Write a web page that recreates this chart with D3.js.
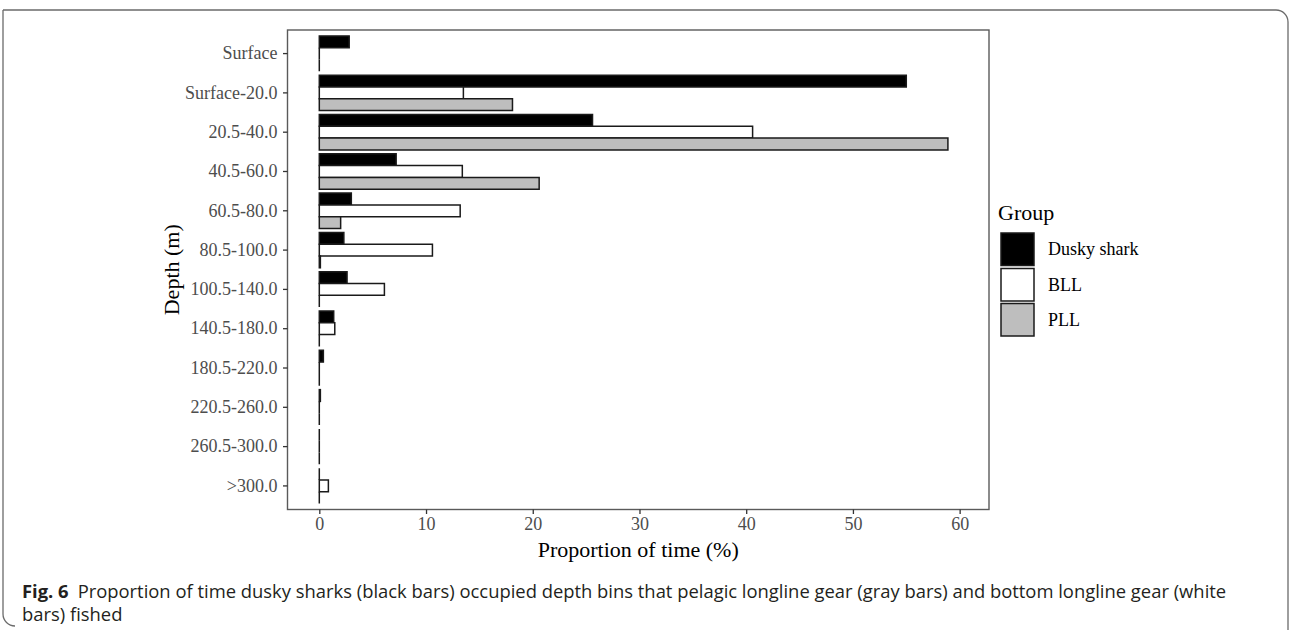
<!DOCTYPE html>
<html>
<head>
<meta charset="utf-8">
<script src="https://cdn.jsdelivr.net/npm/d3@7"></script>
<style>
  html, body { margin: 0; padding: 0; background: #fff; }
  svg { display: block; }
</style>
</head>
<body>
<svg id="chart" width="1290" height="630"></svg>
<script>
// ---- data ----
const categories = ["Surface", "Surface-20.0", "20.5-40.0", "40.5-60.0", "60.5-80.0",
  "80.5-100.0", "100.5-140.0", "140.5-180.0", "180.5-220.0", "220.5-260.0",
  "260.5-300.0", ">300.0"];
const groups = ["Dusky shark", "BLL", "PLL"];
const duskyShark = [2.8, 55.0, 25.6, 7.2, 3.0, 2.3, 2.6, 1.35, 0.38, 0.1, 0, 0];
const bll        = [0, 13.5, 40.6, 13.4, 13.2, 10.6, 6.1, 1.45, 0, 0, 0, 0.85];
const pll        = [0, 18.1, 58.9, 20.6, 2.0, 0.1, 0, 0, 0, 0, 0, 0];
const groupFills = ["#000000", "#ffffff", "#bebebe"];
const xTicks = [0, 10, 20, 30, 40, 50, 60];
const caption = {
  label: "Fig. 6",
  line1: "Proportion of time dusky sharks (black bars) occupied depth bins that pelagic longline gear (gray bars) and bottom longline gear (white",
  line2: "bars) fished"
};

const seriesValues = [duskyShark, bll, pll];
const rows = [];
categories.forEach((c, i) => groups.forEach((g, j) => rows.push({cat: c, group: g, value: seriesValues[j][i]})));

const svg = d3.select("#chart");
const panel = {left: 287.5, right: 989, top: 30, bottom: 509.5};

// outer frame
const fp = d3.path();
fp.moveTo(3, 10);
fp.lineTo(1276, 10);
fp.arcTo(1288, 10, 1288, 22, 12);
fp.lineTo(1288, 640);
svg.append("path").attr("d", fp.toString()).attr("fill", "none").attr("stroke", "#6b6b6b").attr("stroke-width", 1.3);
const fp2 = d3.path();
fp2.moveTo(3, 10);
fp2.lineTo(3, 614);
fp2.arcTo(3, 626, 15, 626, 12);
svg.append("path").attr("d", fp2.toString()).attr("fill", "none").attr("stroke", "#6b6b6b").attr("stroke-width", 1.3);

// scales
const x = d3.scaleLinear().domain([-2.98, 62.75]).range([panel.left, panel.right]);
const y = d3.scaleBand().domain(categories).range([panel.top, panel.bottom]).paddingInner(0.1).paddingOuter(0.15);
const yInner = d3.scaleBand().domain(groups).range([0, y.bandwidth()]);
const fill = d3.scaleOrdinal().domain(groups).range(groupFills);

// bars (paths so zero-width bars still draw their outline)
svg.append("g").selectAll("path").data(rows).join("path")
  .attr("d", d => {
    const p = d3.path();
    const x0 = x(0), x1 = x(d.value);
    const y0 = y(d.cat) + yInner(d.group), h = yInner.bandwidth();
    p.moveTo(x0, y0); p.lineTo(x1, y0); p.lineTo(x1, y0 + h); p.lineTo(x0, y0 + h); p.closePath();
    return p.toString();
  })
  .attr("fill", d => fill(d.group))
  .attr("stroke", "#1a1a1a")
  .attr("stroke-width", 1.5);

// panel border
svg.append("rect")
  .attr("x", panel.left).attr("y", panel.top)
  .attr("width", panel.right - panel.left).attr("height", panel.bottom - panel.top)
  .attr("fill", "none").attr("stroke", "#5a5a5a").attr("stroke-width", 1.4);

const serif = "'Liberation Serif', 'Times New Roman', serif";

// x axis
const xAxis = svg.append("g").attr("transform", `translate(0,${panel.bottom})`)
  .call(d3.axisBottom(x).tickValues(xTicks).tickSize(4.5).tickPadding(3).tickFormat(d3.format("d")));
xAxis.select(".domain").remove();
xAxis.selectAll(".tick line").attr("stroke", "#333").attr("stroke-width", 1.3);
xAxis.selectAll(".tick text").attr("font-family", serif).attr("font-size", 18).attr("fill", "#4d4d4d");

// y axis
const yAxis = svg.append("g").attr("transform", `translate(${panel.left},0)`)
  .call(d3.axisLeft(y).tickSize(4.5).tickPadding(5.5));
yAxis.select(".domain").remove();
yAxis.selectAll(".tick line").attr("stroke", "#333").attr("stroke-width", 1.3);
yAxis.selectAll(".tick text").attr("font-family", serif).attr("font-size", 18).attr("fill", "#4d4d4d");

// axis titles
svg.append("text").attr("x", (panel.left + panel.right) / 2).attr("y", 557)
  .attr("text-anchor", "middle").attr("font-family", serif).attr("font-size", 22).attr("fill", "#000")
  .text("Proportion of time (%)");
svg.append("text").attr("transform", `translate(179,${(panel.top + panel.bottom) / 2}) rotate(-90)`)
  .attr("text-anchor", "middle").attr("font-family", serif).attr("font-size", 22).attr("fill", "#000")
  .text("Depth (m)");

// legend
const lg = svg.append("g");
lg.append("text").attr("x", 998).attr("y", 220).attr("font-family", serif).attr("font-size", 22).text("Group");
const keyTop = [233, 268.5, 303.5];
groups.forEach((g, i) => {
  lg.append("rect").attr("x", 1001).attr("y", keyTop[i]).attr("width", 33).attr("height", 32.5)
    .attr("fill", fill(g)).attr("stroke", "#1a1a1a").attr("stroke-width", 1.5);
  lg.append("text").attr("x", 1048).attr("y", keyTop[i] + 22).attr("font-family", serif).attr("font-size", 18).text(g);
});

// caption
const capFont = "'Open Sans', 'Noto Sans', sans-serif";
const t1 = svg.append("text").attr("x", 22).attr("y", 598).attr("font-family", capFont).attr("font-size", 18.4).attr("fill", "#231f20");
t1.append("tspan").attr("font-weight", "bold").text(caption.label);
t1.append("tspan").attr("dx", 9).text(caption.line1);
svg.append("text").attr("x", 22).attr("y", 621).attr("font-family", capFont).attr("font-size", 18.4).attr("fill", "#231f20")
  .text(caption.line2);
</script>
</body>
</html>
